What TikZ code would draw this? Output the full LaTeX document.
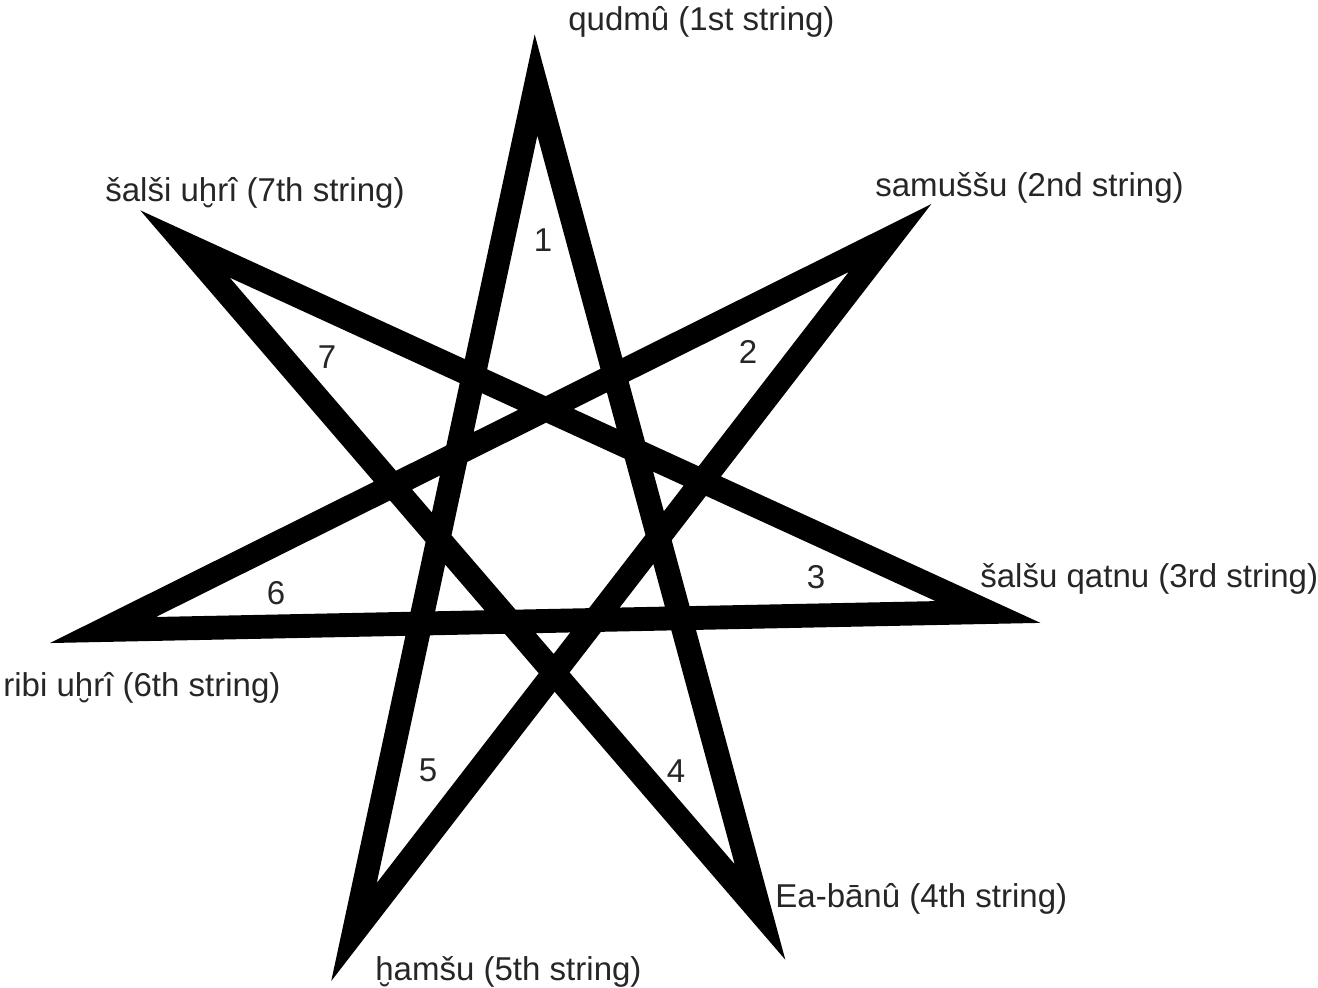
\documentclass[tikz,border=0pt]{standalone}
\usepackage{fontspec}
\setmainfont{Liberation Sans}
\usetikzlibrary{positioning}

\begin{document}
\begin{tikzpicture}[
    x=0.02cm, y=-0.02cm,
    every node/.style={font=\fontsize{18.8}{22}\selectfont, text=black!85},
    starline/.style={draw=black, line width=13.6pt, line join=miter, miter limit=10},
    stringlbl/.style={anchor=base west, inner sep=0pt},
    numlbl/.style={inner sep=0pt}
]
\useasboundingbox (0,0) rectangle (1318,987);

% --- Star vertices (centre line of the stroke) ---
\coordinate (v1) at (536,85);
\coordinate (v2) at (890,238);
\coordinate (v3) at (988,612);
\coordinate (v4) at (760,912);
\coordinate (v5) at (354,932);
\coordinate (v6) at (103,630);
\coordinate (v7) at (185,244);

% --- Heptagram {7/3} ---
\draw[starline] (v1) -- (v4) -- (v7) -- (v3) -- (v6) -- (v2) -- (v5) -- cycle;

% --- String names ---
\node[stringlbl] (s1) at (568,31)  {qudmû (1st string)};
\node[stringlbl] (s2) at (875,196) {samuššu (2nd string)};
\node[stringlbl] (s3) at (980,587) {šalšu qatnu (3rd string)};
\node[stringlbl] (s4) at (775,907) {Ea-bānû (4th string)};
\node[stringlbl] (s5) at (375,980) {ḫamšu (5th string)};
\node[stringlbl] (s6) at (3,696)   {ribi uḫrî (6th string)};
\node[stringlbl] (s7) at (105,201) {šalši uḫrî (7th string)};

% --- Point numbers ---
\node[numlbl] (n1) at (543,240) {1};
\node[numlbl] (n2) at (748,352) {2};
\node[numlbl] (n3) at (816,577) {3};
\node[numlbl] (n4) at (676,771) {4};
\node[numlbl] (n5) at (428,770) {5};
\node[numlbl] (n6) at (276,593) {6};
\node[numlbl] (n7) at (327,357) {7};
\end{tikzpicture}
\end{document}
